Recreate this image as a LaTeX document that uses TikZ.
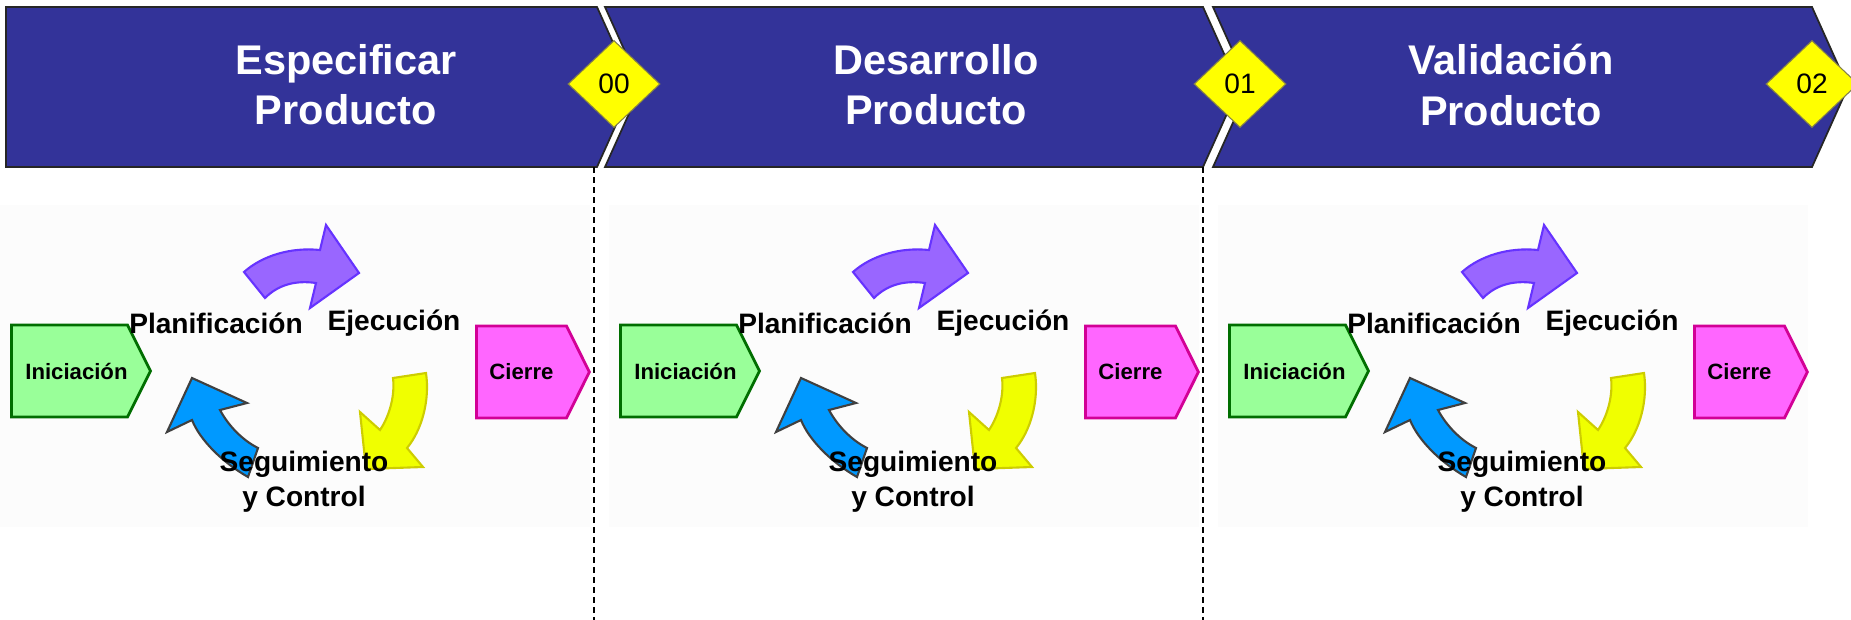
\documentclass[tikz,border=0pt]{standalone}
\usepackage{fontspec}
\setmainfont{Liberation Sans}
\usetikzlibrary{shapes.geometric, shapes.symbols, positioning}

\definecolor{banda}{RGB}{51,51,153}
\definecolor{amarillohito}{RGB}{255,255,0}
\definecolor{verdeclaro}{RGB}{153,255,153}
\definecolor{verdeoscuro}{RGB}{0,110,0}
\definecolor{rosa}{RGB}{255,102,255}
\definecolor{rosaoscuro}{RGB}{210,0,150}
\definecolor{lila}{RGB}{153,102,255}
\definecolor{lilaoscuro}{RGB}{102,51,255}
\definecolor{amarillo}{RGB}{240,255,0}
\definecolor{amarillooscuro}{RGB}{205,205,0}
\definecolor{celeste}{RGB}{0,153,255}

\tikzset{
  fase/.style = {fill=banda, draw=black!85, line width=0.5pt},
  titulo/.style = {text=white, align=center, font=\fontsize{11.8}{14.3}\selectfont\bfseries},
  hito/.style = {diamond, fill=amarillohito, draw=black!55!yellow, line width=0.3pt,
    minimum width=9.2mm, minimum height=8.7mm, inner sep=0pt, font=\fontsize{8}{9}\selectfont},
  caja/.style = {signal, signal to=east, signal pointer angle=127, line width=0.8pt,
    minimum height=9.2mm, inner sep=0pt, anchor=west, font=\fontsize{6.3}{7.5}\selectfont\bfseries},
  etiqueta/.style = {align=center, inner sep=0pt, font=\fontsize{8}{10}\selectfont\bfseries}
}

\begin{document}
\begin{tikzpicture}[x=0.1mm, y=-0.1mm]
  \useasboundingbox (0,0) rectangle (1851,620);

  % fases
  \draw[fase] (6,7) -- (597,7) -- (633,87) -- (597,167) -- (6,167) -- cycle;
  \draw[fase] (605,7) -- (1203,7) -- (1239,87) -- (1203,167) -- (605,167) -- (641,87) -- cycle;
  \draw[fase] (1213,7) -- (1812,7) -- (1848,87) -- (1812,167) -- (1213,167) -- (1249,87) -- cycle;
  \node[titulo] (esp) at (346,85) {Especificar\\Producto};
  \node[titulo] (des) at (936,85) {Desarrollo\\Producto};
  \node[titulo] (val) at (1511,85) {Validación\\Producto};

  % hitos
  \node[hito] (h0) at (614,84) {00};
  \node[hito] (h1) at (1240,84) {01};
  \node[hito] (h2) at (1812,84) {02};

  \draw[dashed, dash pattern=on 0.6mm off 0.4mm, line width=0.4pt] (594,167) -- (594,620);
  \draw[dashed, dash pattern=on 0.6mm off 0.4mm, line width=0.4pt] (1203,167) -- (1203,620);

  % ciclo de cada fase
  \foreach \i/\x in {0/0, 1/609, 2/1218} {
    \begin{scope}[shift={(\x,0)}]
      \fill[black!1] (0,205) rectangle (590,527);
      \draw[fill=lila, draw=lilaoscuro, line width=0.6pt]
        (244,272) .. controls (262,256) and (290,247) .. (320,250) -- (326,225) -- (359,273)
        -- (310,308) -- (316,283) .. controls (295,280) and (278,285) .. (265,298) -- cycle;
      \draw[fill=amarillo, draw=amarillooscuro, line width=0.6pt]
        (426,373) .. controls (430,400) and (422,430) .. (407,448) -- (423,467) -- (366,469)
        -- (360,412) -- (380,430) .. controls (390,415) and (395,395) .. (393,378) -- cycle;
      \draw[fill=celeste, draw=black!75, line width=0.6pt]
        (192,378) -- (247,403) -- (220,410) .. controls (228,425) and (242,440) .. (258,448)
        -- (248,477) .. controls (222,462) and (200,440) .. (192,420) -- (167,432) -- cycle;
      \node[caja, fill=verdeclaro, draw=verdeoscuro, minimum width=13.8mm] (ini\i) at (10,371) {\hspace{1.4mm}Iniciación};
      \node[caja, fill=rosa, draw=rosaoscuro, minimum width=11.3mm] (cie\i) at (475,372) {Cierre};
      \node[etiqueta] (pla\i) at (216,323) {Planificación};
      \node[etiqueta] (eje\i) at (394,323) {Ejecución};
      \node[etiqueta] (seg\i) at (304,482) {Seguimiento\\y Control};
    \end{scope}
  }
\end{tikzpicture}
\end{document}
